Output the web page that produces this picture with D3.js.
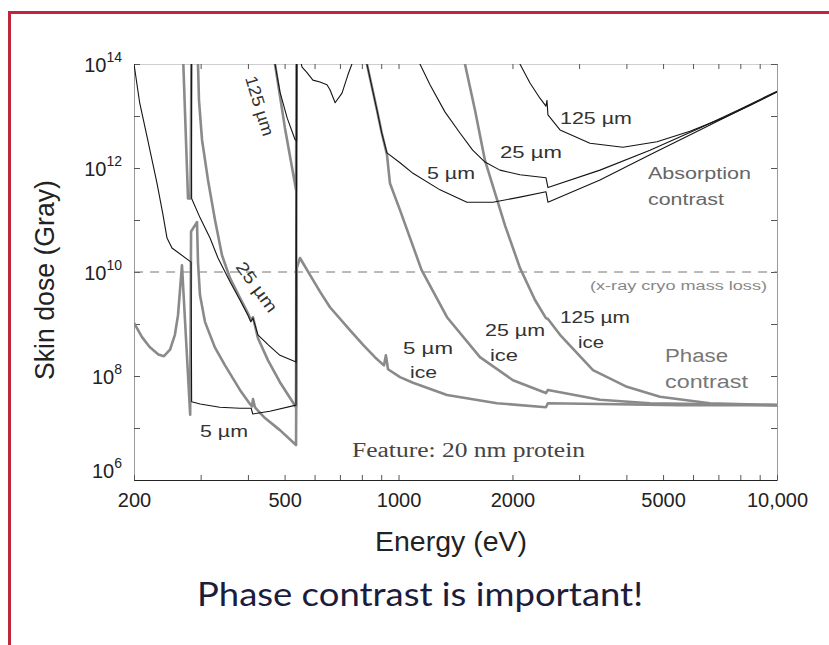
<!DOCTYPE html>
<html><head><meta charset="utf-8">
<script src="https://cdn.jsdelivr.net/npm/d3@7"></script>
<style>body{margin:0;background:#fff}svg{display:block}</style>
</head><body>
<svg id="chart" width="829" height="645"></svg>
<script>
// ---------- data (energy in eV, skin dose in Gray) ----------
const xTickValues = [200, 500, 1000, 2000, 5000, 10000];
const xTickLabels = ["200", "500", "1000", "2000", "5000", "10,000"];
const xMinorTicks = [300,400,600,700,800,900,3000,4000,6000,7000,8000,9000];
const yTickExponents = [6, 8, 10, 12, 14];
const yAllExponents = [6, 7, 8, 9, 10, 11, 12, 13, 14];
const massLossDose = 1e10;

// absorption contrast (thin black), protein in ice of given thickness
const absorption5um = [
  [200, 1.0e14], [207, 1.8e13], [216.5, 4.0e12], [230, 5.1e11], [238.6, 1.26e11], [244.5, 4.5e10],
  [252, 2.9e10], [283, 1.55e10], [284, 3.2e7], [299, 2.9e7], [337, 2.5e7], [381, 2.4e7], [408, 2.4e7],
  [412, 1.86e7], [457, 2.1e7], [536, 2.75e7], [538, 3e14],
  [546, 1.5e14], [556, 8.7e13], [573, 6.8e13], [594, 4.9e13], [620, 4.5e13], [647, 4.0e13], [659, 3.2e13],
  [680, 1.8e13], [709, 2.75e13], [735, 6.2e13], [753, 1.0e14], [785, 2.3e14], [825, 1.0e14], [877, 1.3e13],
  [903, 4.7e12], [932, 1.95e12], [1009, 1.26e12], [1092, 7.9e11], [1287, 3.8e11], [1516, 2.2e11],
  [1776, 2.2e11], [2093, 2.75e11], [2452, 3.5e11], [2482, 2.2e11], [3406, 5.9e11], [4617, 1.8e12],
  [6257, 5.4e12], [7980, 1.3e13], [10000, 2.9e13]
];
const absorption25um = [
  [283.5, 3e14], [284, 2.6e11], [299, 1.1e11], [317.6, 4.5e10], [333.4, 1.86e10], [358.7, 6.5e9],
  [381, 2.9e9], [400, 1.48e9], [407, 1.1e9], [412.5, 1.3e9], [425, 6.2e8], [452, 4.0e8], [486, 2.5e8],
  [536, 1.86e8], [538, 3e14],
  [1100, 2.3e14], [1139, 1.0e14], [1211, 4.0e13], [1326, 1.2e13], [1453, 4.7e12], [1570, 2.2e12],
  [1692, 1.3e12], [1853, 9.1e11], [2093, 7.4e11], [2452, 6.5e11], [2482, 4.2e11], [3406, 9.1e11],
  [4617, 2.2e12], [6257, 5.9e12], [7980, 1.35e13], [10000, 3.0e13]
];
const absorption125um = [
  [467, 1.9e14], [471.6, 1.0e14], [486, 2.9e13], [508, 9.1e12], [533, 3.5e12], [538, 3.3e12], [538, 3e14],
  [2040, 1.9e14], [2093, 1.0e14], [2225, 4.3e13], [2364, 2.2e13], [2452, 1.55e13], [2467, 2.0e13],
  [2482, 1.05e13], [2671, 5.4e12], [3205, 3.0e12], [3917, 2.5e12], [4818, 3.2e12], [5889, 5.1e12],
  [7198, 9.1e12], [8480, 1.6e13], [10000, 2.9e13]
];

// phase contrast (thick grey), protein in ice of given thickness
const phase5um = [
  [200, 1.05e9], [210, 5.6e8], [220, 3.6e8], [232, 2.6e8], [240, 2.4e8], [249, 3.2e8], [256.5, 6.2e8],
  [261.4, 1.48e9], [264.6, 4.5e9], [267.8, 1.35e10], [281.5, 1.8e7], [283, 6e10], [293.4, 9.1e10],
  [295.2, 1.55e10], [298.8, 3.6e9], [308, 1.1e9], [327.4, 3.5e8], [348, 1.6e8], [381, 5.4e7], [405, 2.9e7],
  [410, 2.6e7], [412.5, 3.6e7], [417.5, 2.5e7], [443.7, 1.55e7], [486, 9.1e6], [536, 4.7e6],
  [538.5, 1.2e10], [549, 1.86e10], [584, 8.7e9], [620, 4.2e9], [659, 2.1e9], [744, 7.6e8], [805, 4.0e8],
  [866, 2.3e8], [915, 1.6e8], [926, 2.5e8], [938, 1.35e8], [1009, 9.5e7], [1092, 7.4e7], [1343, 4.3e7],
  [1820, 3.0e7], [2452, 2.5e7], [2482, 3.0e7], [3406, 2.9e7], [5542, 2.75e7], [10000, 2.75e7]
];
const phase25um = [
  [268.6, 3e14], [277.8, 2.6e11], [282, 2.6e11], [284, 3e14], [293.4, 3e14], [295.2, 1.0e14], [297, 2.0e13],
  [302.5, 3.5e12], [313.7, 5.9e11], [327.4, 1.0e11], [341.6, 2.1e10], [358.7, 7.6e9], [381, 3.2e9],
  [400, 1.6e9], [407, 1.2e9], [412.5, 1.35e9], [425, 5.4e8], [452, 2.0e8], [486, 7.6e7], [536, 2.5e7],
  [538, 3e14], [815, 2.9e14], [825, 1.0e14], [877, 1.3e13], [903, 4.7e12], [932, 1.8e12], [949, 5.1e11],
  [1009, 1.55e11], [1150, 1.1e10], [1343, 1.35e9], [1641, 2.3e8], [2006, 8.3e7], [2452, 4.7e7],
  [2482, 5.4e7], [3406, 3.5e7], [4617, 3.0e7], [6257, 2.9e7], [10000, 2.75e7]
];
const phase125um = [
  [467.5, 1.9e14], [471.6, 1.0e14], [501, 5.9e12], [536, 3.8e11], [538, 3e14], [1471, 2.9e14],
  [1498, 1.0e14], [1592, 1.3e13], [1692, 1.4e12], [1911, 7.9e10], [2093, 1.2e10], [2294, 2.9e9],
  [2452, 1.3e9], [2482, 1.25e9], [2671, 6.2e8], [3264, 1.3e8], [4013, 6.2e7], [4906, 4.0e7],
  [6648, 3.0e7], [10000, 2.75e7]
];

// ---------- drawing ----------
const svg = d3.select("#chart");
const W = 829, H = 645;
const plot = {left: 134, right: 777, top: 64, bottom: 480};
const x = d3.scaleLog().domain([200, 10000]).range([plot.left, plot.right]);
const y = d3.scaleLog().domain([1e6, 1e14]).range([plot.bottom, plot.top]);
const sans = "'Liberation Sans', Arial, Helvetica, sans-serif";

// red frame
svg.append("line").attr("x1", 8).attr("x2", W).attr("y1", 12.5).attr("y2", 12.5)
  .attr("stroke", "#c1263f").attr("stroke-width", 3);
svg.append("line").attr("x1", 9.5).attr("x2", 9.5).attr("y1", 11).attr("y2", H)
  .attr("stroke", "#c1263f").attr("stroke-width", 3);

svg.append("clipPath").attr("id", "clip").append("rect")
  .attr("x", plot.left).attr("y", plot.top)
  .attr("width", plot.right - plot.left).attr("height", plot.bottom - plot.top);

// axes
const allX = xTickValues.concat(xMinorTicks);
const decades = yAllExponents.map(e => Math.pow(10, e));
function styleAxis(g, color) {
  g.select(".domain").attr("stroke", color);
  g.selectAll(".tick line").attr("stroke", "#555");
}
svg.append("g").attr("transform", `translate(0,${plot.top})`)
  .call(d3.axisTop(x).tickValues(allX).tickSizeInner(-5).tickSizeOuter(0).tickFormat(""))
  .call(g => styleAxis(g, "#cfcfcf"));
svg.append("g").attr("transform", `translate(${plot.right},0)`)
  .call(d3.axisRight(y).tickValues(decades).tickSizeInner(-6).tickSizeOuter(0).tickFormat(""))
  .call(g => styleAxis(g, "#9a9a9a"));
svg.append("g").attr("transform", `translate(${plot.left},0)`)
  .call(d3.axisLeft(y).tickValues(decades).tickSizeInner(-6).tickSizeOuter(0).tickFormat(""))
  .call(g => styleAxis(g, "#9a9a9a"));
const labelOf = new Map(xTickValues.map((v, i) => [v, xTickLabels[i]]));
svg.append("g").attr("transform", `translate(0,${plot.bottom})`)
  .call(d3.axisBottom(x).tickValues(allX).tickSizeInner(-5).tickSizeOuter(0).tickPadding(13)
    .tickFormat(d => labelOf.get(d) || ""))
  .call(g => styleAxis(g, "#222"))
  .call(g => g.selectAll("text").attr("font-family", sans).attr("font-size", 20).attr("fill", "#222"));

// y tick labels 10^n
yTickExponents.forEach(e => {
  const t = svg.append("text").attr("x", 122).attr("y", y(Math.pow(10, e)) + (e === 6 ? -2 : 8))
    .attr("text-anchor", "end").attr("font-family", sans).attr("fill", "#222");
  t.append("tspan").attr("font-size", 20).text("10");
  t.append("tspan").attr("font-size", 14).attr("dy", -10).text(String(e));
});

// dashed mass-loss line
svg.append("line").attr("x1", plot.left).attr("x2", plot.right)
  .attr("y1", y(massLossDose)).attr("y2", y(massLossDose))
  .attr("stroke", "#777").attr("stroke-width", 1).attr("stroke-dasharray", "9,7");

const line = d3.line().x(d => x(d[0])).y(d => y(d[1]));
const curves = svg.append("g").attr("clip-path", "url(#clip)");
[phase5um, phase25um, phase125um].forEach(s => curves.append("path").attr("d", line(s))
  .attr("fill", "none").attr("stroke", "#8a8a8a").attr("stroke-width", 2.6)
  .attr("stroke-linejoin", "round"));
[absorption5um, absorption25um, absorption125um].forEach(s => curves.append("path").attr("d", line(s))
  .attr("fill", "none").attr("stroke", "#151515").attr("stroke-width", 1.1)
  .attr("stroke-linejoin", "round"));

// annotations
function label(txt, px, py, opts = {}) {
  const t = svg.append("text").attr("x", px).attr("y", py)
    .attr("font-family", opts.family || sans).attr("font-size", opts.size || 17)
    .attr("fill", opts.fill || "#333").text(txt);
  if (opts.len) t.attr("textLength", opts.len).attr("lengthAdjust", "spacingAndGlyphs");
  if (opts.rotate) t.attr("transform", `rotate(${opts.rotate},${px},${py})`);
  return t;
}
label("125 µm", 560, 124, {len: 72});
label("25 µm", 500, 158, {len: 62});
label("5 µm", 427, 179, {len: 48});
label("Absorption", 648, 179, {size: 16, fill: "#666", len: 103});
label("contrast", 648, 205, {size: 16, fill: "#666", len: 76});
label("(x-ray cryo mass loss)", 590, 290, {size: 12.5, fill: "#888", len: 177});
label("5 µm", 403, 354, {len: 50});
label("ice", 410, 378, {len: 27});
label("25 µm", 485, 336, {len: 60});
label("ice", 490, 361, {len: 28});
label("125 µm", 560, 323, {len: 70});
label("ice", 578, 348, {len: 26});
label("Phase", 665, 362, {size: 18, fill: "#777", len: 63});
label("contrast", 665, 388, {size: 18, fill: "#777", len: 83});
label("5 µm", 200, 437, {len: 48});
label("125 µm", 245, 78, {rotate: 73, len: 62});
label("25 µm", 235, 267, {rotate: 54, len: 58});
label("Feature: 20 nm protein", 352, 457, {family: "'Liberation Serif', 'Times New Roman', serif", size: 20, fill: "#444", len: 233});

// axis titles
label("Energy (eV)", 375, 551, {size: 27, fill: "#222", len: 152});
svg.append("text").attr("transform", "translate(54,380) rotate(-90)")
  .attr("font-family", sans).attr("font-size", 27).attr("fill", "#222")
  .attr("textLength", 200).attr("lengthAdjust", "spacingAndGlyphs").text("Skin dose (Gray)");

// caption
label("Phase contrast is important!", 197, 606, {family: "Lato, 'Open Sans', sans-serif", size: 32, fill: "#1c1c3c", len: 446});
</script>
</body></html>
